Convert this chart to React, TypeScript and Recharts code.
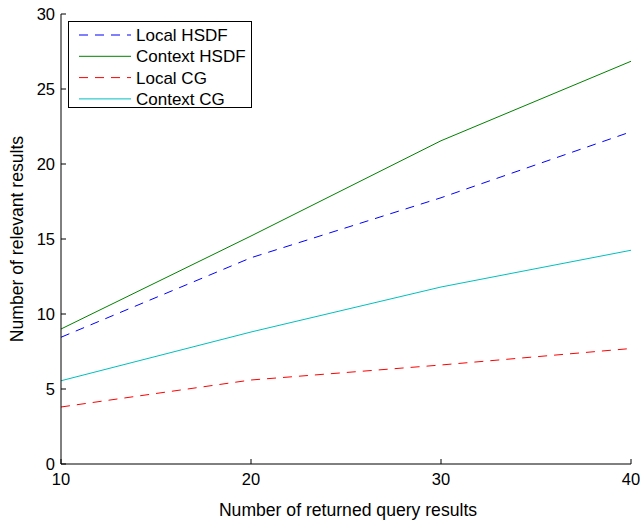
import { LineChart, Line, XAxis, YAxis, Label } from "recharts";

const queryCounts = [10, 20, 30, 40];
const localHsdf = [8.45, 13.75, 17.75, 22.15];
const contextHsdf = [9.0, 15.2, 21.55, 26.85];
const localCg = [3.8, 5.6, 6.6, 7.7];
const contextCg = [5.55, 8.8, 11.8, 14.25];

const xTicks = [10, 20, 30, 40];
const yTicks = [0, 5, 10, 15, 20, 25, 30];

const FONT = "'Liberation Sans', Arial, Helvetica, sans-serif";
const LABEL_SIZE = 17.6;

const data = queryCounts.map((q, i) => ({
  q,
  localHsdf: localHsdf[i],
  contextHsdf: contextHsdf[i],
  localCg: localCg[i],
  contextCg: contextCg[i],
}));

const SERIES = [
  { key: "localHsdf", name: "Local HSDF", color: "#0000ff", dash: "9 7" },
  { key: "contextHsdf", name: "Context HSDF", color: "#008000", dash: undefined },
  { key: "localCg", name: "Local CG", color: "#ff0000", dash: "9 7" },
  { key: "contextCg", name: "Context CG", color: "#00bfbf", dash: undefined },
];

const TICK_LEN = 5;

// inward ticks, matlab style
function BottomTick(props: any) {
  const { x, y, payload } = props;
  return (
    <g>
      <line x1={x} y1={y} x2={x} y2={y - TICK_LEN} stroke="#000" />
      <text x={x} y={y + 21} textAnchor="middle" fontSize={16.5} fontFamily={FONT} fill="#000">
        {payload.value}
      </text>
    </g>
  );
}

function TopTick(props: any) {
  const { x, y } = props;
  return <line x1={x} y1={y} x2={x} y2={y + TICK_LEN} stroke="#000" />;
}

function LeftTick(props: any) {
  const { x, y, payload } = props;
  return (
    <g>
      <line x1={x} y1={y} x2={x + TICK_LEN} y2={y} stroke="#000" />
      <text x={x - 6} y={y} dy="0.36em" textAnchor="end" fontSize={16.5} fontFamily={FONT} fill="#000">
        {payload.value}
      </text>
    </g>
  );
}

function RightTick(props: any) {
  const { x, y } = props;
  return <line x1={x} y1={y} x2={x - TICK_LEN} y2={y} stroke="#000" />;
}

function LegendBox() {
  return (
    <svg width={184} height={87} style={{ display: "block" }}>
      <rect x={0.5} y={0.5} width={183} height={86} fill="#fff" stroke="#000" />
      {SERIES.map((s, i) => {
        const cy = 14 + i * 21.3;
        return (
          <g key={s.key}>
            <line x1={11} y1={cy} x2={63} y2={cy} stroke={s.color} strokeDasharray={s.dash} />
            <text x={68} y={cy} dy="0.36em" fontSize={17} fontFamily={FONT} fill="#000">
              {s.name}
            </text>
          </g>
        );
      })}
    </svg>
  );
}

export default function App() {
  return (
    <div style={{ position: "absolute", left: 0, top: 0, width: 642, height: 522, background: "#fff" }}>
      <LineChart
        width={642}
        height={522}
        data={data}
        margin={{ top: 14, right: 11, left: 0, bottom: 0 }}
        style={{ fontFamily: FONT }}
      >
        <XAxis
          dataKey="q"
          type="number"
          domain={[10, 40]}
          ticks={xTicks}
          height={58}
          tickSize={0}
          tickMargin={0}
          tick={<BottomTick />}
          axisLine={{ stroke: "#000" }}
          tickLine={false}
        >
          <Label
            content={({ viewBox }: any) => (
              <text
                x={viewBox.x + viewBox.width / 2 + 2}
                y={516}
                textAnchor="middle"
                fontSize={LABEL_SIZE}
                fontFamily={FONT}
                fill="#000"
              >
                Number of returned query results
              </text>
            )}
          />
        </XAxis>
        <XAxis
          xAxisId="top"
          dataKey="q"
          type="number"
          orientation="top"
          domain={[10, 40]}
          ticks={xTicks}
          height={0}
          tickSize={0}
          tickMargin={0}
          tick={<TopTick />}
          axisLine={{ stroke: "#000" }}
          tickLine={false}
        />
        <YAxis
          type="number"
          domain={[0, 30]}
          ticks={yTicks}
          width={61}
          tickSize={0}
          tickMargin={0}
          tick={<LeftTick />}
          axisLine={{ stroke: "#000" }}
          tickLine={false}
        >
          <Label
            content={({ viewBox }: any) => {
              const cy = viewBox.y + viewBox.height / 2;
              return (
                <text
                  x={17}
                  y={cy}
                  dy="0.36em"
                  transform={`rotate(-90 17 ${cy})`}
                  textAnchor="middle"
                  fontSize={LABEL_SIZE}
                  fontFamily={FONT}
                  fill="#000"
                >
                  Number of relevant results
                </text>
              );
            }}
          />
        </YAxis>
        <YAxis
          yAxisId="right"
          type="number"
          orientation="right"
          domain={[0, 30]}
          ticks={yTicks}
          width={0}
          tickSize={0}
          tickMargin={0}
          tick={<RightTick />}
          axisLine={{ stroke: "#000" }}
          tickLine={false}
        />
        {SERIES.map((s) => (
          <Line
            key={s.key}
            dataKey={s.key}
            name={s.name}
            type="linear"
            stroke={s.color}
            strokeWidth={1}
            strokeDasharray={s.dash}
            dot={false}
            isAnimationActive={false}
          />
        ))}
      </LineChart>
      <div style={{ position: "absolute", left: 68, top: 21 }}>
        <LegendBox />
      </div>
    </div>
  );
}
